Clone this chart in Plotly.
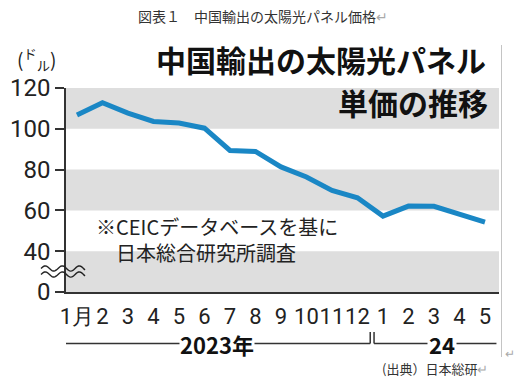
import math
import plotly.graph_objects as go

# ---- data ----
month_labels = ["1月", "2", "3", "4", "5", "6", "7", "8", "9", "10", "11", "12",
                "1", "2", "3", "4", "5"]
prices = [106.8, 112.8, 107.7, 103.6, 102.8, 100.3, 89.4, 88.9, 81.3, 76.4,
          69.8, 66.2, 57.2, 62.1, 62.0, 58.0, 54.3]
y_tick_vals = [20, 40, 60, 80, 100, 120]
y_tick_text = ["0", "40", "60", "80", "100", "120"]
band_ranges = [(100, 120), (60, 80), (20, 40)]
year_labels = ["2023年", "24"]

JP = "Noto Sans CJK JP"
NUM = "Liberation Sans Narrow, Roboto, sans-serif"
x_idx = list(range(len(prices)))

# plot area in pixels
L, R, T, B = 66, 499, 88, 292
W, H = 526, 389


def px(xp):
    return (xp - L) / (R - L)


def py(yp):
    return (B - yp) / (B - T)


fig = go.Figure()

# price line
fig.add_trace(go.Scatter(
    x=x_idx, y=prices, mode="lines",
    line=dict(color="#1a87c5", width=5), hoverinfo="skip", showlegend=False))

# dots under the x axis
fig.add_trace(go.Scatter(
    x=x_idx, y=[17.6] * len(x_idx), mode="markers",
    marker=dict(color="#111", size=5), cliponaxis=False,
    hoverinfo="skip", showlegend=False))

shapes = []
for lo, hi in band_ranges:
    shapes.append(dict(type="rect", xref="paper", yref="y", x0=0, x1=1,
                       y0=lo, y1=hi, fillcolor="#dedede", line_width=0,
                       layer="below"))

# wave (axis break) symbol
def wave(y0p):
    pts = []
    n = 40
    for i in range(n + 1):
        xp = 41 + i * (44 / n)
        yp = y0p - 2.6 * math.sin((xp - 41) / 17 * 2 * math.pi)
        pts.append((px(xp), py(yp)))
    return "M " + " L ".join(f"{a:.4f},{b:.4f}" for a, b in pts)


for y0p in (268.5, 274.5):
    shapes.append(dict(type="path", xref="paper", yref="paper",
                       path=wave(y0p), line=dict(color="#222", width=1.4)))

# year brackets
bc = "#333"
yb_top, yb_bot = py(332), py(343.5)
shapes += [
    dict(type="line", xref="x", yref="paper", x0=-0.66, x1=11.5,
         y0=yb_bot, y1=yb_bot, line=dict(color=bc, width=1.5)),
    dict(type="line", xref="x", yref="paper", x0=-0.66, x1=-0.66,
         y0=yb_top, y1=yb_bot, line=dict(color=bc, width=1.5)),
    dict(type="line", xref="x", yref="paper", x0=11.5, x1=11.5,
         y0=yb_top, y1=yb_bot, line=dict(color=bc, width=1.5)),
    dict(type="line", xref="x", yref="paper", x0=11.65, x1=16.45,
         y0=yb_bot, y1=yb_bot, line=dict(color=bc, width=1.5)),
    dict(type="line", xref="x", yref="paper", x0=11.65, x1=11.65,
         y0=yb_top, y1=yb_bot, line=dict(color=bc, width=1.5)),
]
# page frame line at right
shapes.append(dict(type="line", xref="paper", yref="paper",
                   x0=px(501.5), x1=px(501.5), y0=py(45), y1=py(357),
                   line=dict(color="#c4c4c4", width=1)))

ann = []
# document caption
ann.append(dict(text="図表１　中国輸出の太陽光パネル価格<span style='color:#aaa'>↵</span>",
                xref="paper", yref="paper", x=px(263), y=py(16),
                xanchor="center", yanchor="middle", showarrow=False,
                font=dict(family=JP, size=14, color="#333")))
# big title
ann.append(dict(text="<b>中国輸出の太陽光パネル</b>", xref="paper", yref="paper",
                x=px(488), y=py(59), xanchor="right", yanchor="middle",
                showarrow=False, font=dict(family=JP, size=30, color="#111")))
ann.append(dict(text="<b>単価の推移</b>", xref="paper", yref="paper",
                x=px(490), y=py(102), xanchor="right", yanchor="middle",
                showarrow=False, font=dict(family=JP, size=30, color="#111")))
# unit
ann.append(dict(text="(<sup>ド</sup><sub>ル</sub>)", xref="paper", yref="paper",
                x=px(36), y=py(59), xanchor="center", yanchor="middle",
                showarrow=False, font=dict(family=JP, size=19, color="#222")))
# note
ann.append(dict(text="※CEICデータベースを基に<br>　日本総合研究所調査", xref="paper",
                yref="paper", x=px(94), y=py(239), xanchor="left",
                yanchor="middle", align="left", showarrow=False,
                font=dict(family=JP, size=20, color="#222")))
# year labels
ann.append(dict(text="<b>" + year_labels[0] + "</b>", xref="x", yref="paper", x=5.5,
                y=yb_bot, xanchor="center", yanchor="middle", showarrow=False,
                bgcolor="white", borderpad=0,
                font=dict(family=JP, size=22, color="#111")))
ann.append(dict(text="<b>" + year_labels[1] + "</b>", xref="x", yref="paper", x=14.3,
                y=yb_bot, xanchor="center", yanchor="middle", showarrow=False,
                bgcolor="white", borderpad=1,
                font=dict(family=JP, size=22, color="#111")))
# source
ann.append(dict(text="(出典）日本総研<span style='color:#aaa'>↵</span>", xref="paper",
                yref="paper", x=px(380), y=py(368), xanchor="left",
                yanchor="middle", showarrow=False,
                font=dict(family=JP, size=13, color="#333")))
ann.append(dict(text="↵", xref="paper", yref="paper", x=px(503), y=py(352),
                xanchor="left", yanchor="middle", showarrow=False,
                font=dict(family=JP, size=12, color="#aaa")))

fig.update_layout(
    width=W, height=H,
    margin=dict(l=L, r=W - R, t=T, b=H - B),
    paper_bgcolor="white", plot_bgcolor="white",
    shapes=shapes, annotations=ann, showlegend=False,
    xaxis=dict(range=[-0.43, 16.55], tickmode="array", tickvals=x_idx,
               ticktext=month_labels, showgrid=False, zeroline=False,
               showline=True, linecolor="#333", linewidth=1.5,
               ticks="outside", ticklen=4, tickcolor="rgba(0,0,0,0)",
               tickangle=0, automargin=False,
               tickfont=dict(family=NUM, size=22, color="#222"),
               fixedrange=True),
    yaxis=dict(range=[20, 120], tickmode="array", tickvals=y_tick_vals,
               ticktext=y_tick_text, showgrid=False, zeroline=False,
               showline=True, linecolor="#333", linewidth=1.5,
               ticks="outside", ticklen=9, tickwidth=1.5, tickcolor="#333",
               automargin=False,
               tickfont=dict(family=NUM, size=24, color="#222"),
               fixedrange=True),
)

fig.write_html("out.html", config={"displayModeBar": False},
               post_script="document.body.style.margin='0';")
